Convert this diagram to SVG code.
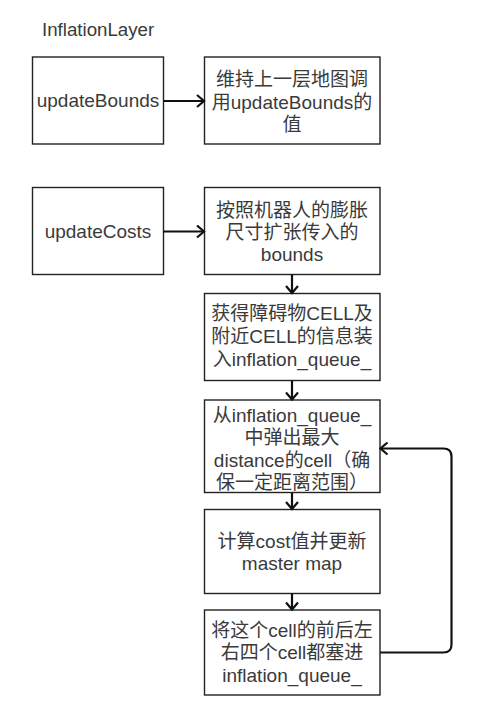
<svg xmlns="http://www.w3.org/2000/svg" width="485" height="707" viewBox="0 0 485 707">
<style>
.box{fill:#fff;stroke:#222;stroke-width:1.4}
.t{font-family:"Liberation Sans","Noto Sans CJK SC",sans-serif;font-size:19px;fill:#3a3a3a;text-anchor:middle}
.c{fill:none;stroke:#111;stroke-width:2.2}
</style>
<defs>
<marker id="arr" markerUnits="userSpaceOnUse" markerWidth="12" markerHeight="14" refX="9" refY="7" orient="auto">
<path d="M2,1 L9,7 L2,13" fill="none" stroke="#111" stroke-width="2.2"/>
</marker>
</defs>
<rect width="485" height="707" fill="#fff"/>
<text x="42" y="36" font-family="Liberation Sans, sans-serif" font-size="18.7" fill="#3a3a3a">InflationLayer</text>
<g id="updateBounds">
<rect class="box" x="32.5" y="57" width="131" height="87"/>
<text class="t" x="98" y="107">updateBounds</text>
</g>
<g id="keepBounds">
<rect class="box" x="204.5" y="57" width="175.5" height="87"/>
<text class="t" x="292" y="86">维持上一层地图调</text>
<text class="t" x="292" y="108.5">用updateBounds的</text>
<text class="t" x="292" y="131">值</text>
</g>
<g id="updateCosts">
<rect class="box" x="32.5" y="187.5" width="131" height="87"/>
<text class="t" x="98" y="238">updateCosts</text>
</g>
<g id="expandBounds">
<rect class="box" x="204.5" y="187.5" width="175.5" height="87"/>
<text class="t" x="292" y="216.5">按照机器人的膨胀</text>
<text class="t" x="292" y="239">尺寸扩张传入的</text>
<text class="t" x="292" y="261">bounds</text>
</g>
<g id="getCells">
<rect class="box" x="204.5" y="293.5" width="175.5" height="87"/>
<text class="t" x="292" y="320">获得障碍物CELL及</text>
<text class="t" x="292" y="343">附近CELL的信息装</text>
<text class="t" x="292" y="366">入inflation_queue_</text>
</g>
<g id="popCell">
<rect class="box" x="204.5" y="400" width="175.5" height="92.5"/>
<text class="t" x="292" y="421.5">从inflation_queue_</text>
<text class="t" x="292" y="444">中弹出最大</text>
<text class="t" x="292" y="466.5">distance的cell（确</text>
<text class="t" x="292" y="489">保一定距离范围）</text>
</g>
<g id="computeCost">
<rect class="box" x="204.5" y="509.5" width="175.5" height="84"/>
<text class="t" x="292" y="548">计算cost值并更新</text>
<text class="t" x="292" y="570">master map</text>
</g>
<g id="pushNeighbors">
<rect class="box" x="204.5" y="610" width="175.5" height="85"/>
<text class="t" x="292" y="636.5">将这个cell的前后左</text>
<text class="t" x="292" y="659">右四个cell都塞进</text>
<text class="t" x="292" y="681.5">inflation_queue_</text>
</g>
<g id="connectors">
<path class="c" d="M163.5,101 L204,101" marker-end="url(#arr)"/>
<path class="c" d="M163.5,231.5 L204,231.5" marker-end="url(#arr)"/>
<path class="c" d="M292,274.5 L292,293" marker-end="url(#arr)"/>
<path class="c" d="M292,380.5 L292,399.5" marker-end="url(#arr)"/>
<path class="c" d="M292,492.5 L292,509" marker-end="url(#arr)"/>
<path class="c" d="M292,593.5 L292,609.5" marker-end="url(#arr)"/>
<path class="c" d="M380,652.5 L443.5,652.5 Q451.5,652.5 451.5,644.5 L451.5,456.5 Q451.5,448.5 443.5,448.5 L380.5,448.5" marker-end="url(#arr)"/>
</g>
</svg>
